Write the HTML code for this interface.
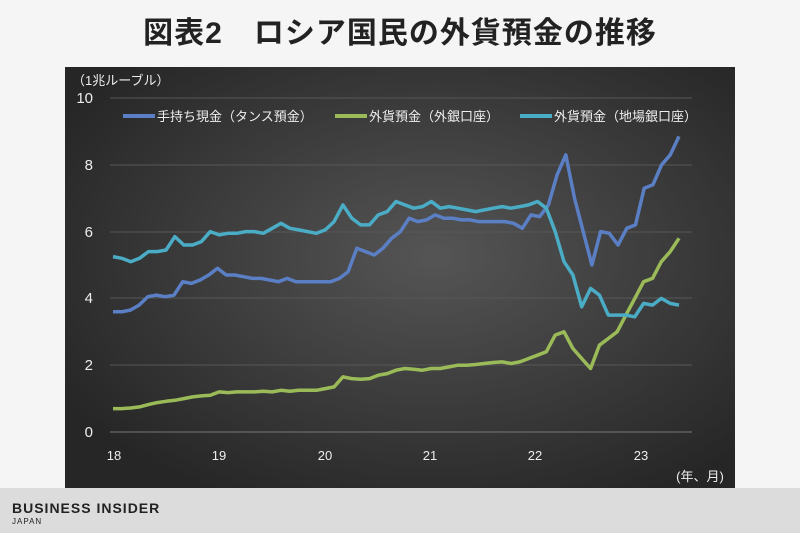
<!DOCTYPE html>
<html><head><meta charset="utf-8"><style>
body{margin:0;width:800px;height:533px;background:#f5f5f5;overflow:hidden;font-family:"Liberation Sans","Noto Sans CJK JP",sans-serif;position:relative}
.t{position:absolute;top:8px;left:0;width:800px;text-align:center;font-size:30px;font-weight:bold;color:#222;letter-spacing:1px}
.foot{position:absolute;left:0;top:488px;width:800px;height:45px;background:#dcdcdc}
</style></head><body>
<div class="t">図表2　ロシア国民の外貨預金の推移</div>
<svg style="position:absolute;left:0;top:0" width="800" height="533">
<defs><radialGradient id="g" cx="55%" cy="45%" r="65%"><stop offset="0" stop-color="#555"/><stop offset="1" stop-color="#262626"/></radialGradient></defs>
<rect x="65" y="67" width="670" height="421" fill="url(#g)"/>
<g stroke="#575757" stroke-width="1">
<line x1="110" x2="692" y1="98" y2="98"/><line x1="110" x2="692" y1="165" y2="165"/><line x1="110" x2="692" y1="232" y2="232"/><line x1="110" x2="692" y1="298" y2="298"/><line x1="110" x2="692" y1="365" y2="365"/><line x1="110" x2="692" y1="432" y2="432" stroke="#777"/>
</g>
<g font-size="15" fill="#eee" text-anchor="end" font-family="Liberation Sans,sans-serif">
<text x="93" y="103">10</text><text x="93" y="170">8</text><text x="93" y="237">6</text><text x="93" y="303">4</text><text x="93" y="370">2</text><text x="93" y="437">0</text></g>
<g font-size="13" fill="#eee" text-anchor="middle">
<text x="114" y="460">18</text><text x="219" y="460">19</text><text x="325" y="460">20</text><text x="430" y="460">21</text><text x="535" y="460">22</text><text x="641" y="460">23</text>
<text x="700" y="481" font-size="13">(年、月)</text></g>
<text x="72" y="85" font-size="13" fill="#eee">（1兆ルーブル）</text>
<g font-size="13" fill="#eee">
<line x1="123" x2="155" y1="116" y2="116" stroke="#5b7fc4" stroke-width="4"/><text x="157" y="121">手持ち現金（タンス預金）</text>
<line x1="335" x2="367" y1="116" y2="116" stroke="#9bbb59" stroke-width="4"/><text x="369" y="121">外貨預金（外銀口座）</text>
<line x1="520" x2="552" y1="116" y2="116" stroke="#4bacc6" stroke-width="4"/><text x="554" y="121">外貨預金（地場銀口座）</text></g>
<g id="lines" fill="none" stroke-width="3.5" stroke-linejoin="round"></g>
</svg>
<div class="foot"><div style="position:absolute;left:12px;top:12px;font-size:14px;font-weight:bold;letter-spacing:1px;color:#222">BUSINESS INSIDER</div><div style="position:absolute;left:12px;top:29px;font-size:8px;letter-spacing:1px;color:#222">JAPAN</div></div>
<script>
var B=[3.6,3.6,3.65,3.8,4.05,4.1,4.05,4.1,4.5,4.45,4.55,4.7,4.9,4.7,4.7,4.65,4.6,4.6,4.55,4.5,4.6,4.5,4.5,4.5,4.5,4.5,4.6,4.8,5.5,5.4,5.3,5.5,5.8,6.0,6.4,6.3,6.35,6.5,6.4,6.4,6.35,6.35,6.3,6.3,6.3,6.3,6.25,6.1,6.5,6.45,6.8,7.7,8.3,7.0,6.0,5.0,6.0,5.95,5.6,6.1,6.2,7.3,7.4,8.0,8.3,8.85];
var L=[5.25,5.2,5.1,5.2,5.4,5.4,5.45,5.85,5.6,5.6,5.7,6.0,5.9,5.95,5.95,6.0,6.0,5.95,6.1,6.25,6.1,6.05,6.0,5.95,6.05,6.3,6.8,6.4,6.2,6.2,6.5,6.6,6.9,6.8,6.7,6.75,6.9,6.7,6.75,6.7,6.65,6.6,6.65,6.7,6.75,6.7,6.75,6.8,6.9,6.7,6.0,5.1,4.7,3.75,4.3,4.1,3.5,3.5,3.5,3.45,3.85,3.8,4.0,3.85,3.8];
var G=[0.7,0.7,0.72,0.75,0.82,0.88,0.92,0.95,1.0,1.05,1.08,1.1,1.2,1.18,1.2,1.2,1.2,1.22,1.2,1.25,1.22,1.25,1.25,1.25,1.3,1.35,1.65,1.6,1.58,1.6,1.7,1.75,1.85,1.9,1.88,1.85,1.9,1.9,1.95,2.0,2.0,2.02,2.05,2.08,2.1,2.05,2.1,2.2,2.3,2.4,2.9,3.0,2.5,2.2,1.9,2.6,2.8,3.0,3.5,4.0,4.5,4.6,5.1,5.4,5.8];
function p(a,c){var n=a.length,d='';for(var i=0;i<n;i++){var x=113+i*(566/(n-1)),y=432-33.4*a[i];d+=(i?'L':'M')+x.toFixed(1)+','+y.toFixed(1);}
var e=document.createElementNS('http://www.w3.org/2000/svg','path');e.setAttribute('d',d);e.setAttribute('stroke',c);document.getElementById('lines').appendChild(e);}
p(G,'#9bbb59');p(B,'#5b7fc4');p(L,'#4bacc6');
</script>
</body></html>
